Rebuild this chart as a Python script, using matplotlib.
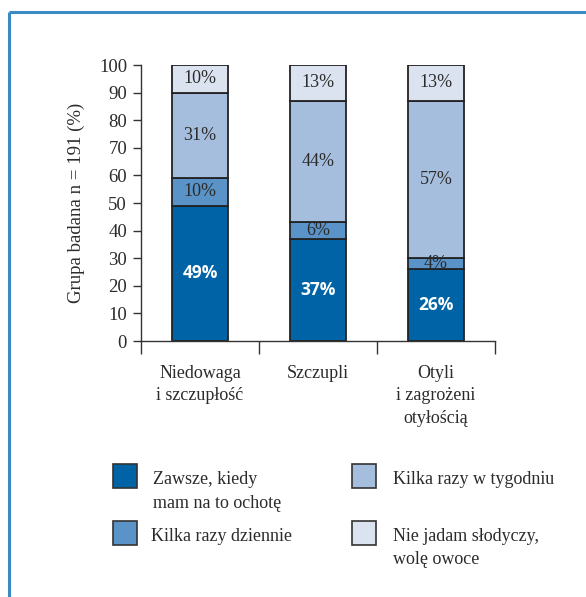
import numpy as np
import matplotlib.pyplot as plt
from matplotlib.patches import Rectangle

# Stacked shares per group (bottom to top)
groups = ["Niedowaga\ni szczupłość", "Szczupli", "Otyli\ni zagrożeni\notyłością"]
always = [49, 37, 26]
daily = [10, 6, 4]
weekly = [31, 44, 57]
never = [10, 13, 13]

series_labels = [
    "Zawsze, kiedy\nmam na to ochotę",
    "Kilka razy dziennie",
    "Kilka razy w tygodniu",
    "Nie jadam słodyczy,\nwolę owoce",
]
colors = ["#0063a6", "#5a93c7", "#a6bedd", "#dce3f0"]
text_colors = ["white", "#2b2b2b", "#2b2b2b", "#2b2b2b"]

serif = "Liberation Serif"
ink = "#2b2b2b"

fig = plt.figure(figsize=(5.86, 5.97), dpi=100)

# Overlay axes in pixel units for the frame and the legend
over = fig.add_axes([0, 0, 1, 1])
over.set_xlim(0, 586)
over.set_ylim(597, 0)
over.axis("off")
over.plot([8.5, 586], [11.5, 11.5], color="#3a8ac4", lw=2.2, solid_capstyle="butt")
over.plot([8.5, 8.5], [11.5, 597], color="#3a8ac4", lw=2.2, solid_capstyle="butt")

ax = fig.add_axes([141 / 586, 1 - 341 / 597, 354 / 586, 276 / 597])
x = np.arange(len(groups))
width = 0.475
bottom = np.zeros(len(groups))
for vals, col, tc in zip([always, daily, weekly, never], colors, text_colors):
    vals = np.array(vals, dtype=float)
    ax.bar(x, vals, width, bottom=bottom, color=col, edgecolor="#222222", linewidth=1.3, zorder=2)
    for xi, b, v in zip(x, bottom, vals):
        label = f"{int(v)}%"
        if tc == "white":
            ax.text(xi, b + v / 2, label, ha="center", va="center", color="white",
                    fontsize=12.5, fontweight="bold", family="Open Sans")
        else:
            ax.text(xi, b + v / 2, label, ha="center", va="center", color=ink,
                    fontsize=13, family=serif)
    bottom += vals

ax.set_xlim(-0.5, 2.5)
ax.set_ylim(0, 100)
ax.set_yticks(np.arange(0, 101, 10))
ax.set_yticklabels([str(v) for v in range(0, 101, 10)], family=serif, fontsize=13.5, color=ink)
ax.tick_params(axis="y", direction="out", length=6, width=1, color="#333333", pad=4)

ax.set_xticks(x)
ax.set_xticklabels(groups, family=serif, fontsize=13, color=ink, linespacing=1.45, va="top")
ax.tick_params(axis="x", length=0, pad=17)
ax.set_xticks([-0.5, 0.5, 1.5, 2.5], minor=True)
ax.tick_params(axis="x", which="minor", direction="out", length=9, width=1, color="#333333")

for s in ("top", "right"):
    ax.spines[s].set_visible(False)
for s in ("left", "bottom"):
    ax.spines[s].set_color("#333333")
    ax.spines[s].set_linewidth(1)

ax.set_ylabel("Grupa badana n = 191 (%)", family=serif, fontsize=13.5, color=ink, labelpad=10)

# Legend drawn in pixel coordinates, two columns
legend_pos = [(113, 464, 153), (113, 521, 151), (352, 464, 393), (352, 521, 393)]
for (sx, sy, tx), col, lab in zip(legend_pos, colors, series_labels):
    over.add_patch(Rectangle((sx, sy), 24, 24, facecolor=col, edgecolor="#333333", lw=1.2))
    over.text(tx, sy + 7, lab, ha="left", va="top", family=serif, fontsize=13,
              color=ink, linespacing=1.5)

fig.savefig("out.png", dpi=100)
